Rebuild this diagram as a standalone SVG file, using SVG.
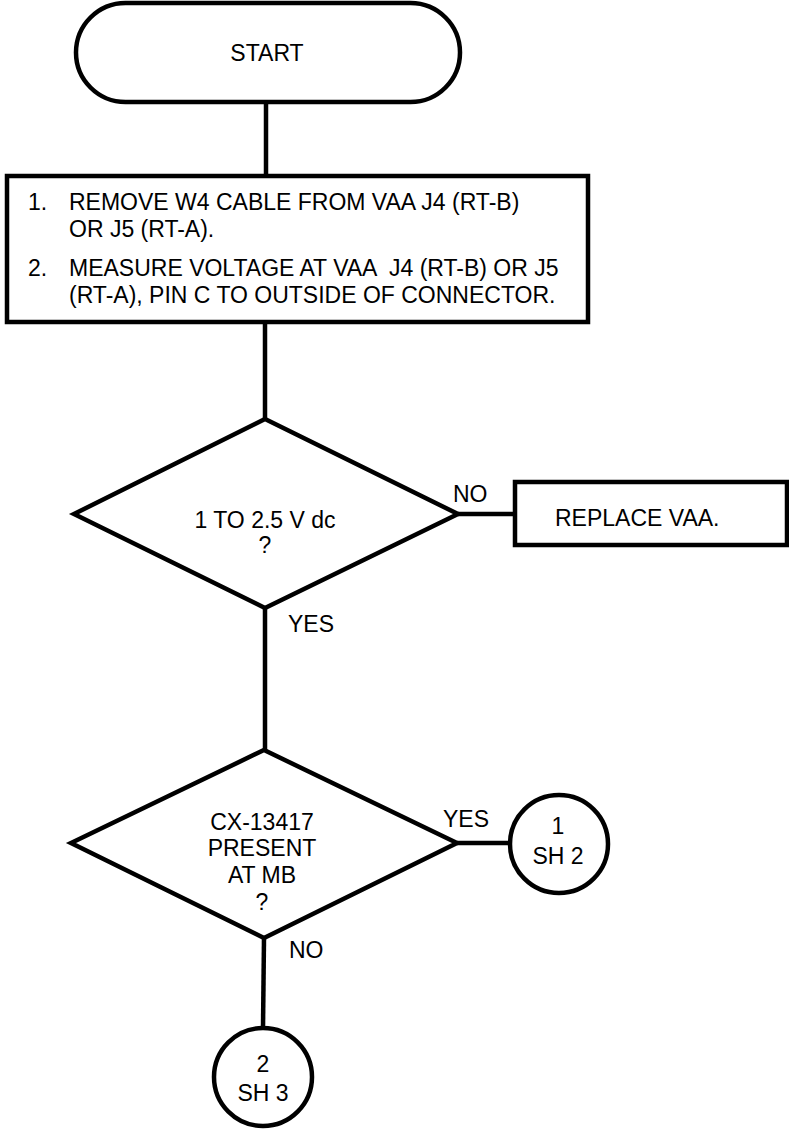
<svg xmlns="http://www.w3.org/2000/svg" width="789" height="1132" viewBox="0 0 789 1132">
<style>
.s{fill:#fff;stroke:#000;stroke-width:4.5}
.c{fill:none;stroke:#000;stroke-width:4.5}
text{font-family:"Liberation Sans",Arial,sans-serif;font-size:23px;fill:#000}
.m{text-anchor:middle}
</style>
<rect width="789" height="1132" fill="#fff"/>
<g id="connectors">
<line class="c" x1="266" y1="102" x2="266" y2="176"/>
<line class="c" x1="265" y1="322" x2="265" y2="419"/>
<line class="c" x1="265" y1="608" x2="265" y2="750"/>
<line class="c" x1="458" y1="514" x2="515" y2="514"/>
<line class="c" x1="457" y1="843" x2="511" y2="843"/>
<line class="c" x1="264" y1="938" x2="263" y2="1028"/>
</g>
<g id="start">
<rect class="s" x="76" y="3" width="384" height="99" rx="49.5"/>
<text class="m" x="267" y="61">START</text>
</g>
<g id="step1">
<rect class="s" x="7" y="176" width="581" height="146"/>
<text x="28" y="210">1.</text>
<text x="69" y="210">REMOVE W4 CABLE FROM VAA J4 (RT-B)</text>
<text x="69" y="237">OR J5 (RT-A).</text>
<text x="28" y="276">2.</text>
<text x="69" y="276" xml:space="preserve">MEASURE VOLTAGE AT VAA  J4 (RT-B) OR J5</text>
<text x="69" y="303">(RT-A), PIN C TO OUTSIDE OF CONNECTOR.</text>
</g>
<g id="decision1">
<polygon class="s" points="74,514 265,419 458,514 265,608"/>
<text class="m" x="265" y="528">1 TO 2.5 V dc</text>
<text class="m" x="265" y="553">?</text>
<text x="453" y="502">NO</text>
<text x="288" y="632">YES</text>
</g>
<g id="replace">
<rect class="s" x="515" y="482" width="272" height="63"/>
<text x="555" y="526">REPLACE VAA.</text>
</g>
<g id="decision2">
<polygon class="s" points="71,843 264,750 457,843 264,938"/>
<text class="m" x="262" y="830">CX-13417</text>
<text class="m" x="262" y="856">PRESENT</text>
<text class="m" x="262" y="883">AT MB</text>
<text class="m" x="262" y="910">?</text>
<text x="443" y="827">YES</text>
<text x="289" y="958">NO</text>
</g>
<g id="sheet2">
<circle class="s" cx="559" cy="844" r="49"/>
<text class="m" x="558" y="834">1</text>
<text class="m" x="558" y="864">SH 2</text>
</g>
<g id="sheet3">
<circle class="s" cx="263" cy="1077" r="49"/>
<text class="m" x="263" y="1072">2</text>
<text class="m" x="263" y="1101">SH 3</text>
</g>
</svg>
